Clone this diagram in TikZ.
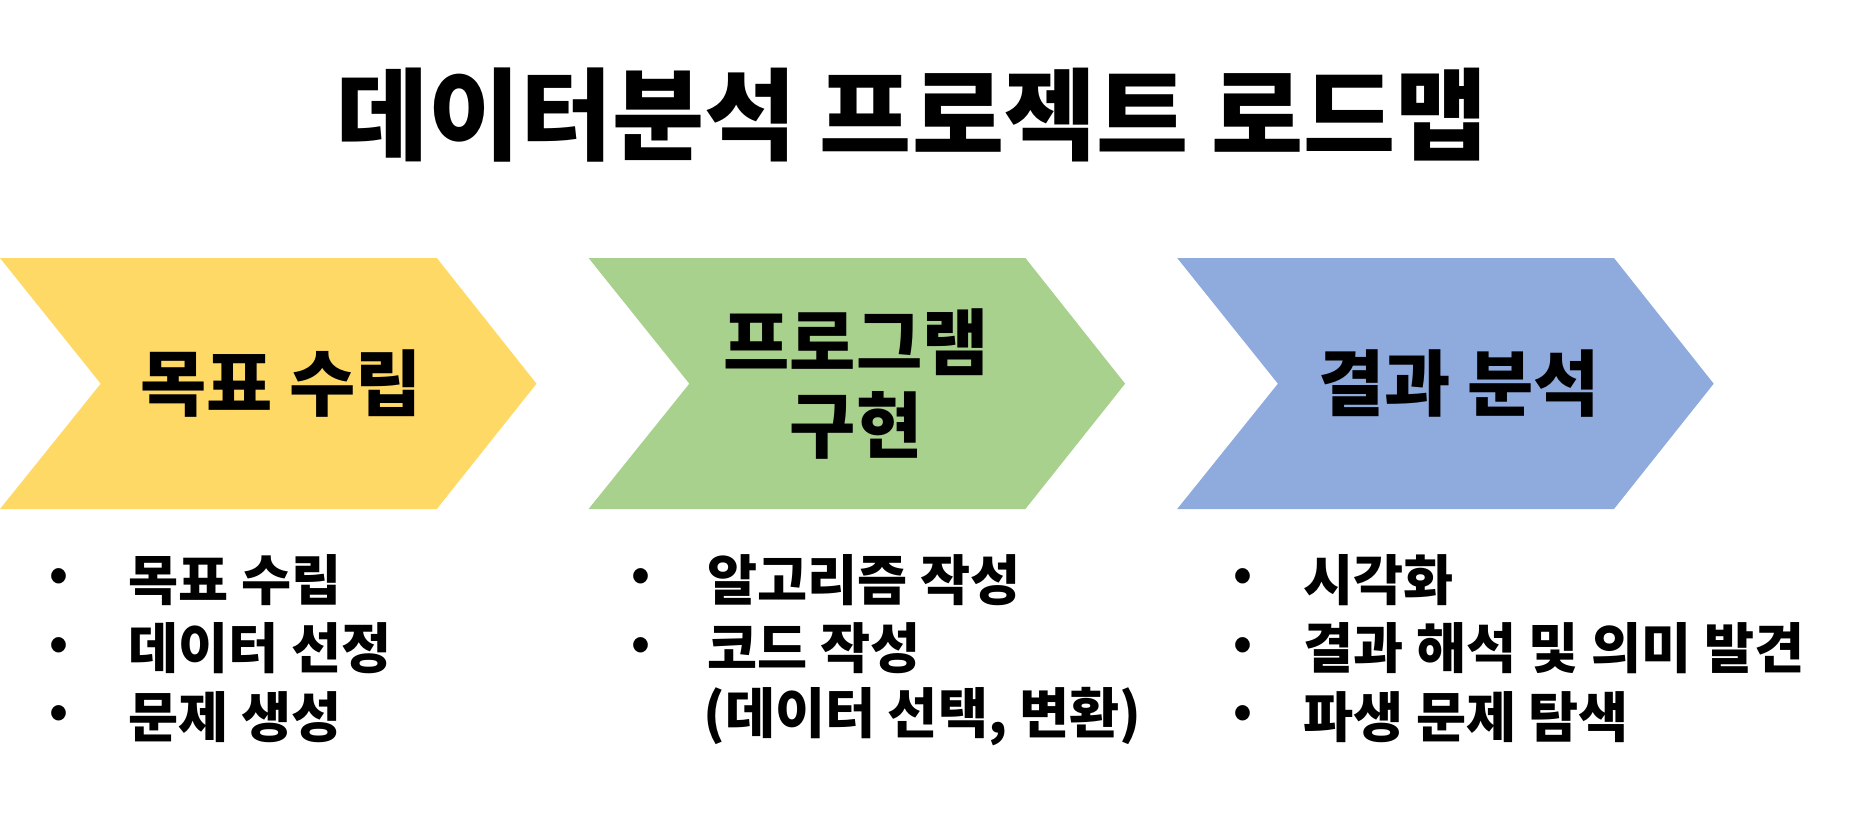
\documentclass[tikz,border=0pt]{standalone}
\usepackage{fontspec}
\usepackage{xcolor}
\usepackage{tikz}
\newfontfamily\kor{Noto Sans CJK KR}
\definecolor{stepyellow}{HTML}{FFD966}
\definecolor{stepgreen}{HTML}{A9D18E}
\definecolor{stepblue}{HTML}{8FAADC}
\tikzset{
  roadmaptitle/.style={font=\kor\bfseries\fontsize{57}{64}\selectfont},
  steplabel/.style={font=\kor\bfseries\fontsize{41}{47}\selectfont, align=center},
  listitem/.style={anchor=west, inner sep=0pt, font=\kor\bfseries\fontsize{31}{36}\selectfont},
  listdot/.style={inner sep=0pt, font=\kor\bfseries\fontsize{27}{32}\selectfont}
}

\begin{document}
\begin{tikzpicture}[x=0.02cm, y=-0.02cm]
    \useasboundingbox (0, 0) rectangle (1857, 835);
    \node[roadmaptitle] (title) at (912, 115) {데이터분석 프로젝트 로드맵};
    {
      \foreach \x/\c in {0/stepyellow, 588.6/stepgreen, 1177.2/stepblue}
        \fill[\c] (\x, 258) -- (\x+436.8, 258) -- (\x+536.5, 383.7) -- (\x+436.8, 509)
          -- (\x, 509) -- (\x+100.7, 383.7) -- cycle;
    }
    \node[steplabel] (goal) at (281, 384) {목표 수립};
    \node[steplabel] (impl) at (856, 384) {프로그램\\구현};
    \node[steplabel] (result) at (1459, 384) {결과 분석};
    {
      \foreach \t [count=\i] in {목표 수립, 데이터 선정, 문제 생성} {
        \node[listdot] (goaldot\i) at (59, 511.5+68.5*\i) {•};
        \node[listitem] (goalitem\i) at (128, 511.5+68.5*\i) {\t};
      }
    }
    {
      \node[listdot] (impldot1) at (641, 580) {•};
      \node[listitem] (implitem1) at (707, 580) {알고리즘 작성};
      \node[listdot] (impldot2) at (641, 648.5) {•};
      \node[listitem] (implitem2) at (707, 648.5) {코드 작성};
      \node[listitem] (implitem3) at (703, 717) {(데이터 선택, 변환)};
    }
    {
      \foreach \t [count=\i] in {시각화, 결과 해석 및 의미 발견, 파생 문제 탐색} {
        \node[listdot] (resultdot\i) at (1243, 511.5+68.5*\i) {•};
        \node[listitem] (resultitem\i) at (1303, 511.5+68.5*\i) {\t};
      }
    }
  \end{tikzpicture}
\end{document}
